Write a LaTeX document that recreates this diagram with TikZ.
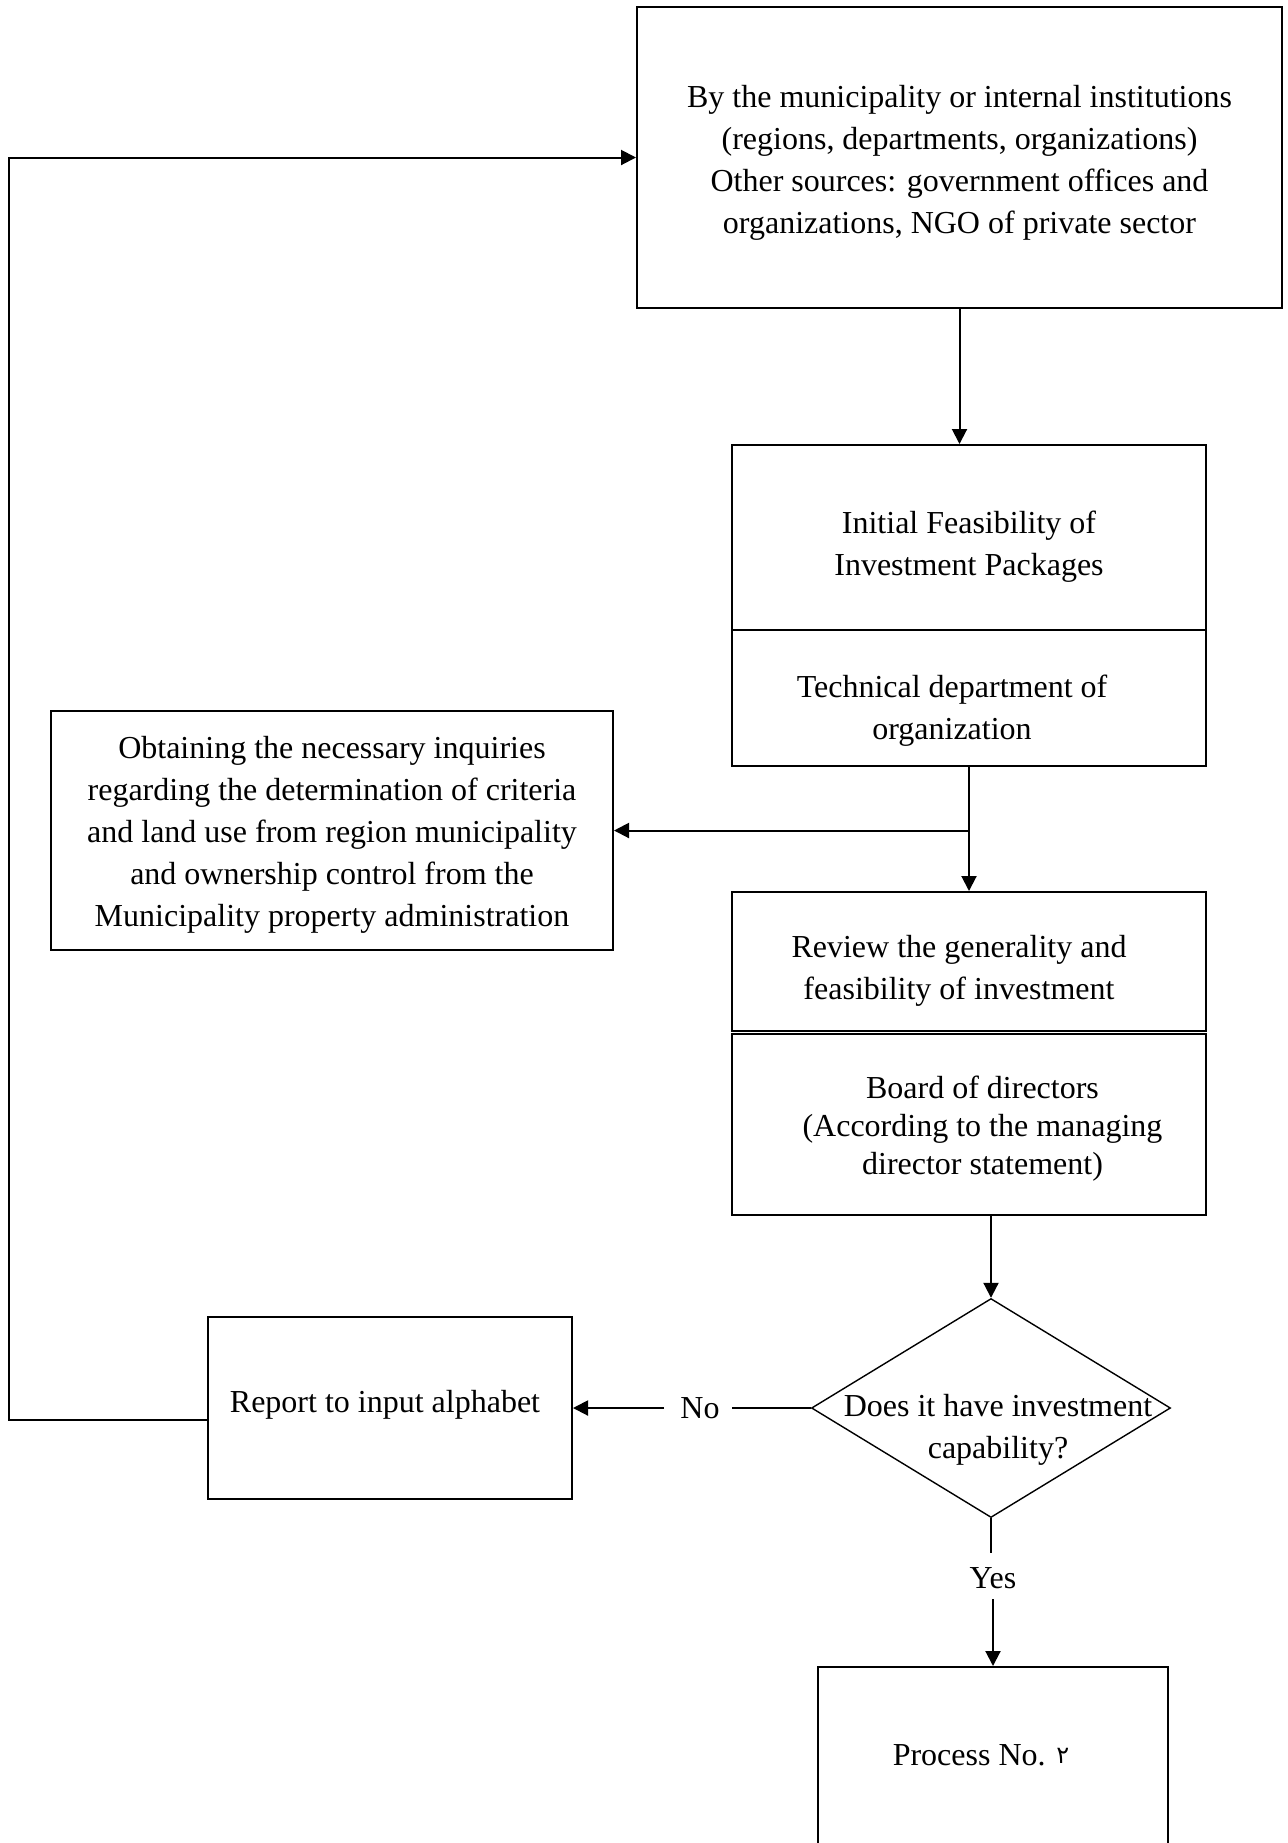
\documentclass[tikz,border=0pt]{standalone}
\usepackage{fontspec}
\setmainfont{Liberation Serif}
\newfontfamily\arabicfont[Script=Arabic]{DejaVu Sans}
\usetikzlibrary{arrows.meta,shapes.geometric}
\tikzset{
  box/.style={draw,line width=1pt,align=center,inner sep=0pt},
  decision/.style={draw,diamond,line width=0.7pt,inner sep=0pt},
  flow/.style={line width=1pt,-{Triangle[length=7.5pt,width=7.5pt]}},
  plain/.style={line width=0.7pt}
}
\begin{document}
\begin{tikzpicture}[x=1pt,y=-1pt,font=\fontsize{16}{21}\selectfont]
  % The page
  \clip (0,0) rectangle (643.5,921.5);

  % Sources of the proposals
  \node[box,minimum width=322.5pt,minimum height=150.5pt,text height=79.9pt] (source) at (479.75,78.75)
    {By the municipality or internal institutions\\(regions, departments, organizations)\\Other sources: government offices and\\organizations, NGO of private sector};
  % Initial feasibility, split in two parts
  \node[box,minimum width=237pt,minimum height=92.5pt,text height=41.9pt] (feas) at (484.5,268.75)
    {Initial Feasibility of\\Investment Packages};
  \node[box,minimum width=237pt,minimum height=68pt,text height=44.9pt] (tech) at (484.5,349)
    {Technical department of\hspace*{17pt}\\organization\hspace*{17pt}};
  % Inquiries
  \node[box,minimum width=281pt,minimum height=119.5pt,text height=99.2pt] (inquiry) at (166,415.25)
    {Obtaining the necessary inquiries\\regarding the determination of criteria\\and land use from region municipality\\and ownership control from the\\Municipality property administration};
  % Review and board
  \node[box,minimum width=237pt,minimum height=69.5pt,text height=41.3pt] (review) at (484.5,480.75)
    {Review the generality and\hspace*{10pt}\\feasibility of investment\hspace*{10pt}};
  \node[box,minimum width=237pt,minimum height=90.5pt,text height=53.6pt,font=\fontsize{16}{19}\selectfont] (board) at (484.5,562.25)
    {\hspace*{13.5pt}Board of directors\\\hspace*{13.5pt}(According to the managing\\\hspace*{13.5pt}director statement)};
  % Decision
  \node[decision,minimum width=179.5pt,minimum height=109.5pt] (dec) at (495.5,704) {};
  \node[align=center] (dectxt) at ([xshift=3.5pt,yshift=-11pt]dec.center)
    {Does it have investment\\capability?};
  % Outcomes
  \node[box,minimum width=182pt,minimum height=91pt,text depth=7pt] (report) at (195,704)
    {Report to input alphabet\hspace*{5pt}};
  \node[box,minimum width=175pt,minimum height=91.5pt,text depth=3.5pt] (process) at (496.5,879.25)
    {Process No. {\arabicfont\fontsize{12}{21}\selectfont\raisebox{1pt}{۲}}\hspace*{12pt}};
  \node[inner sep=0pt] (no) at (350,704) {No};
  \node[inner sep=0pt] (yes) at (496.5,789) {Yes};

  % Connectors
  \draw[flow] (source.south) -- (source.south |- feas.north);
  \draw[flow] (tech.south) -- (review.north);
  \coordinate (split) at (tech.south |- inquiry.east);
  \draw[flow] (split) -- (inquiry.east);
  \draw[flow] (board.south -| dec.north) -- (dec.north);
  \draw[plain] (dec.west) -- ([xshift=6pt]no.east);
  \draw[flow] ([xshift=-8pt]no.west) -- (report.east);
  \draw[plain] (dec.south) -- ([yshift=7pt]yes.north -| dec.south);
  \draw[flow] ([yshift=-5pt]yes.south) -- (process.north);
  % Back to the sources
  \coordinate (loop) at (4.5,710);
  \draw[flow] (report.west |- loop) -- (loop) |- (source.west);
\end{tikzpicture}
\end{document}
